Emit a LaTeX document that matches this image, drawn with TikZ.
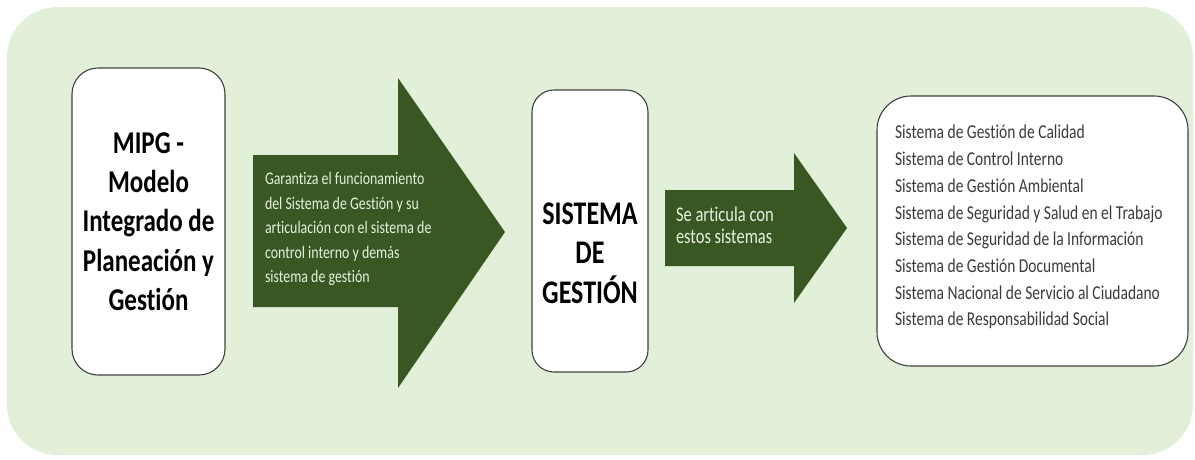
\documentclass[tikz,border=0pt]{standalone}
\usepackage{fontspec}
\setmainfont{Carlito}[Ligatures=NoCommon]
\usepackage{graphicx}
\definecolor{bg}{HTML}{E2EFD9}
\definecolor{dkgreen}{HTML}{385723}
\definecolor{edge}{HTML}{404040}
\definecolor{listtxt}{HTML}{3B3B3B}
\definecolor{arrtxt}{HTML}{E6F0DE}
\newcommand{\vstretch}[1]{\scalebox{1}[1.27]{#1}}
\begin{document}
\begin{tikzpicture}[x=1pt,y=-1pt,
  panel/.style={draw=edge, line width=1.1pt, fill=white, inner sep=0pt},
  blockarrow/.style={fill=dkgreen, draw=none},
  txt/.style={inner sep=0pt, outer sep=0pt}]
\useasboundingbox (0,0) rectangle (1195,459);
\fill[bg, rounded corners=50pt] (7,7) rectangle (1193,455);
% boxes
\node[panel, rounded corners=26pt, minimum width=153pt, minimum height=307pt] (mipg) at (148.5,221.5) {};
\node[panel, rounded corners=22pt, minimum width=116pt, minimum height=282pt] (sg) at (590,231) {};
\node[panel, rounded corners=34pt, minimum width=311pt, minimum height=270pt] (list) at (1032.5,231) {};
% block arrows
\fill[blockarrow] (253,155) -- (398,155) -- (398,78) -- (505,232) -- (398,388) -- (398,307) -- (253,307) -- cycle;
\fill[blockarrow] (665,190) -- (794,190) -- (794,153) -- (847,228) -- (794,303) -- (794,266) -- (665,266) -- cycle;
% texts
\node[txt, font=\fontsize{25}{31}\selectfont\bfseries] (mipgtxt) at (148.5,224)
  {\vstretch{\begin{tabular}{@{}c@{}}MIPG -\\Modelo\\Integrado de\\Planeación y\\Gestión\end{tabular}}};
\node[txt, font=\fontsize{26}{31}\selectfont\bfseries] (sgtxt) at (590,256)
  {\vstretch{\begin{tabular}{@{}c@{}}SISTEMA\\DE\\GESTIÓN\end{tabular}}};
\node[txt, anchor=west, text=arrtxt, font=\fontsize{13.9}{19.3}\selectfont] (a1txt) at (265,229)
  {\vstretch{\begin{tabular}{@{}l@{}}Garantiza el funcionamiento\\del Sistema de Gestión y su\\articulación con el sistema de\\control interno y demás\\sistema de gestión\end{tabular}}};
\node[txt, anchor=west, text=arrtxt, font=\fontsize{16.5}{17.5}\selectfont] (a2txt) at (676,228)
  {\vstretch{\begin{tabular}{@{}l@{}}Se articula con\\estos sistemas\end{tabular}}};
\node[txt, anchor=west, text=listtxt, font=\fontsize{15.5}{21}\selectfont] (listtxt) at (895,227)
  {\vstretch{\begin{tabular}{@{}l@{}}Sistema de Gestión de Calidad\\Sistema de Control Interno\\Sistema de Gestión Ambiental\\Sistema de Seguridad y Salud en el Trabajo\\Sistema de Seguridad de la Información\\Sistema de Gestión Documental\\Sistema Nacional de Servicio al Ciudadano\\Sistema de Responsabilidad Social\end{tabular}}};
\end{tikzpicture}
\end{document}
